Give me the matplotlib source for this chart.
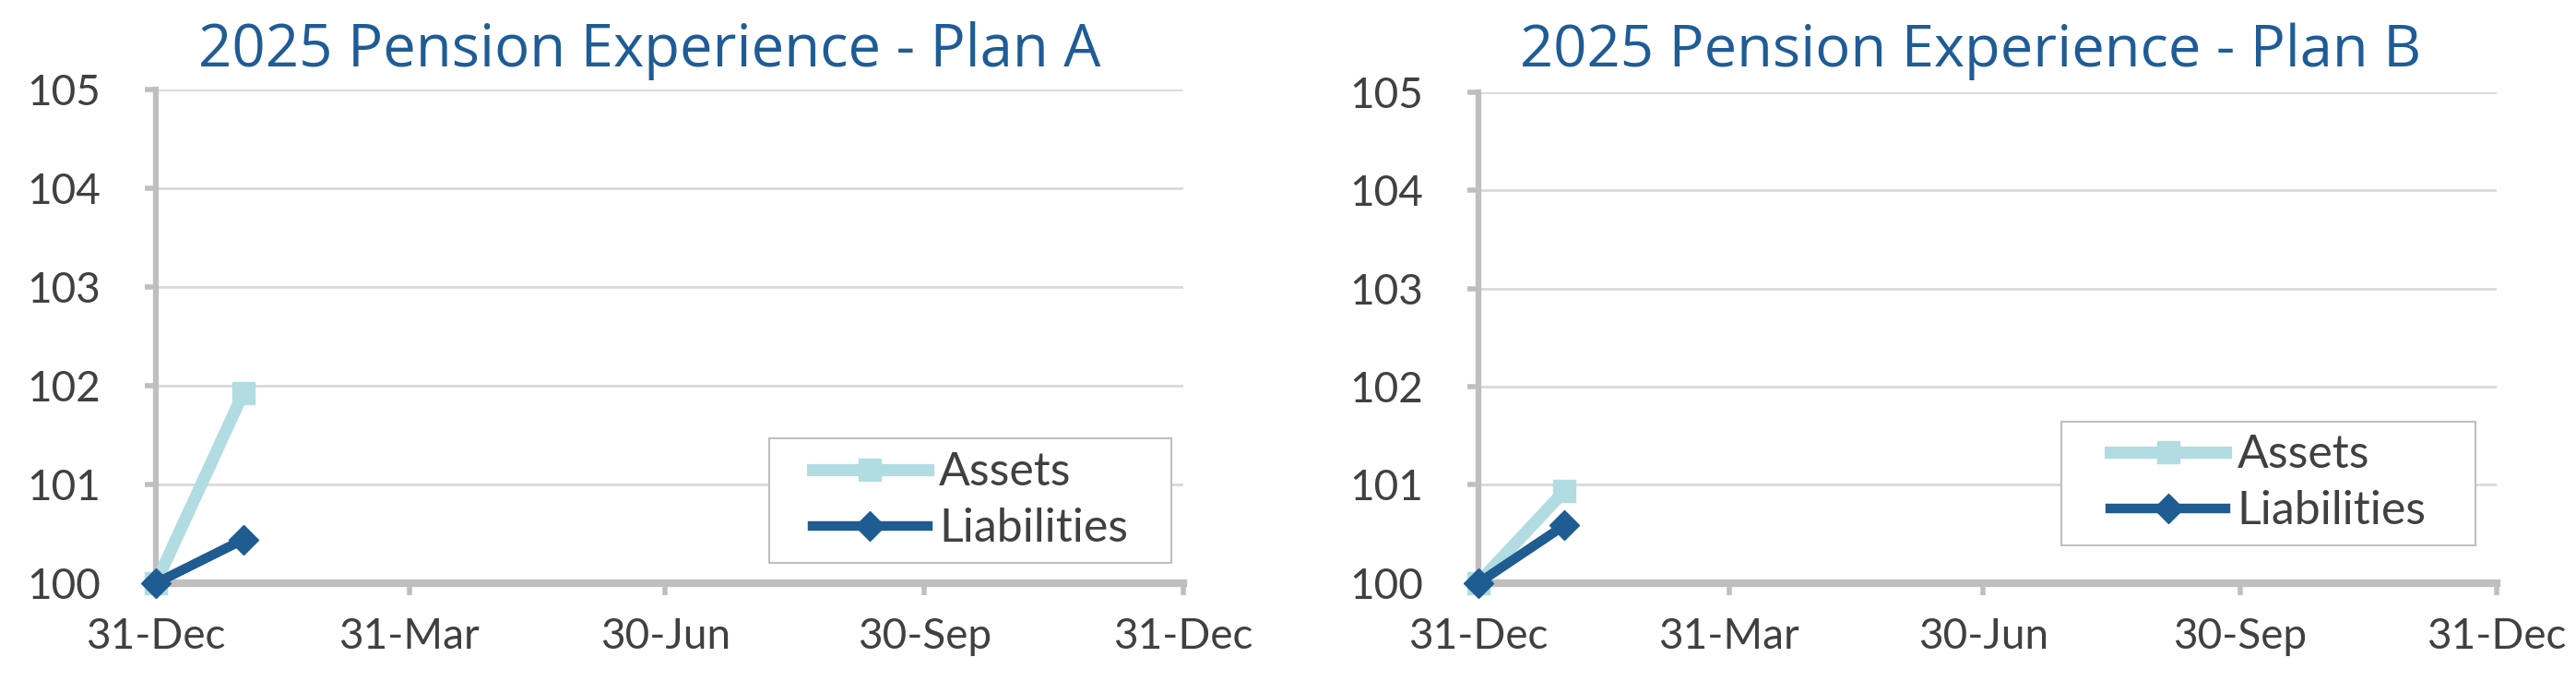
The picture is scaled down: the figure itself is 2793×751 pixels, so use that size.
import matplotlib
matplotlib.use('Agg')
import matplotlib.pyplot as plt
import matplotlib.dates as mdates
from matplotlib.patches import Rectangle
from datetime import datetime

# data
dates = [datetime(2024, 12, 31), datetime(2025, 1, 31)]
assets_a = [100.0, 101.92]
liabs_a = [100.0, 100.44]
assets_b = [100.0, 100.94]
liabs_b = [100.0, 100.59]
tick_dates = [datetime(2024, 12, 31), datetime(2025, 3, 31), datetime(2025, 6, 30),
              datetime(2025, 9, 30), datetime(2025, 12, 31)]
titles = ['2025 Pension Experience - Plan A', '2025 Pension Experience - Plan B']

title_color = '#1F5C96'
assets_color = '#B0DCE2'
liabs_color = '#1F5C91'
axis_gray = '#BFBFBF'
grid_gray = '#D9D9D9'
text_gray = '#404040'
label_font = ['Lato', 'DejaVu Sans']
title_font = ['Open Sans', 'DejaVu Sans']

fig = plt.figure(figsize=(27.93, 7.51), dpi=100)
ax_a = fig.add_axes([0.0605, 0.1585, 0.3989, 0.7127])
ax_b = fig.add_axes([0.5738, 0.1585, 0.3954, 0.7089])

# (axes, assets, liabilities, legend box in axes fraction, title centre x, title width px)
panels = [(ax_a, assets_a, liabs_a, (0.597, 0.041, 0.391, 0.252), 0.252, 980),
          (ax_b, assets_b, liabs_b, (0.573, 0.077, 0.406, 0.252), 0.765, 979)]

title_texts = []
for i, (ax, assets, liabs, leg_box, title_x, title_w) in enumerate(panels):
    ax.plot(dates, assets, color=assets_color, lw=9.5, marker='s', ms=17,
            label='Assets', clip_on=False, zorder=5)
    ax.plot(dates, liabs, color=liabs_color, lw=7.5, marker='D', ms=16,
            label='Liabilities', clip_on=False, zorder=6)

    ax.set_xlim(tick_dates[0], tick_dates[-1])
    ax.set_ylim(100, 105)
    ax.set_xticks(tick_dates)
    ax.xaxis.set_major_formatter(mdates.DateFormatter('%d-%b'))
    ax.set_yticks(range(100, 106))

    ax.grid(axis='y', color=grid_gray, lw=2)
    ax.set_axisbelow(True)
    for side in ['top', 'right']:
        ax.spines[side].set_visible(False)
    ax.spines['left'].set_color(axis_gray)
    ax.spines['left'].set_linewidth(4.5)
    ax.spines['bottom'].set_color(axis_gray)
    ax.spines['bottom'].set_linewidth(6)
    ax.tick_params(axis='both', color=axis_gray, width=4, length=9,
                   labelcolor=text_gray, labelsize=33)
    ax.tick_params(axis='y', pad=34)
    ax.tick_params(axis='x', pad=18)
    for lab in ax.get_xticklabels() + ax.get_yticklabels():
        lab.set_family(label_font)

    # legend frame like the original's fixed box, legend centred inside it
    ax.add_patch(Rectangle(leg_box[:2], leg_box[2], leg_box[3], transform=ax.transAxes,
                           facecolor='white', edgecolor=axis_gray, lw=1.5, zorder=7))
    leg = ax.legend(loc='center', bbox_to_anchor=leg_box, frameon=False,
                    handlelength=2.5, handletextpad=0.25, borderpad=0,
                    labelspacing=0.3, borderaxespad=0,
                    prop={'family': label_font, 'size': 36})
    leg.set_zorder(8)
    for t in leg.get_texts():
        t.set_color(text_gray)

    t = fig.text(title_x, 0.904, titles[i], ha='center', va='baseline',
                 color=title_color, fontsize=44, family=title_font)
    title_texts.append((t, title_w))

# size the titles to the width they take in the original
renderer = fig.canvas.get_renderer()
for t, w in title_texts:
    cur = t.get_window_extent(renderer).width
    t.set_fontsize(t.get_fontsize() * w / cur)

fig.savefig('out.png', dpi=100, facecolor='white')
